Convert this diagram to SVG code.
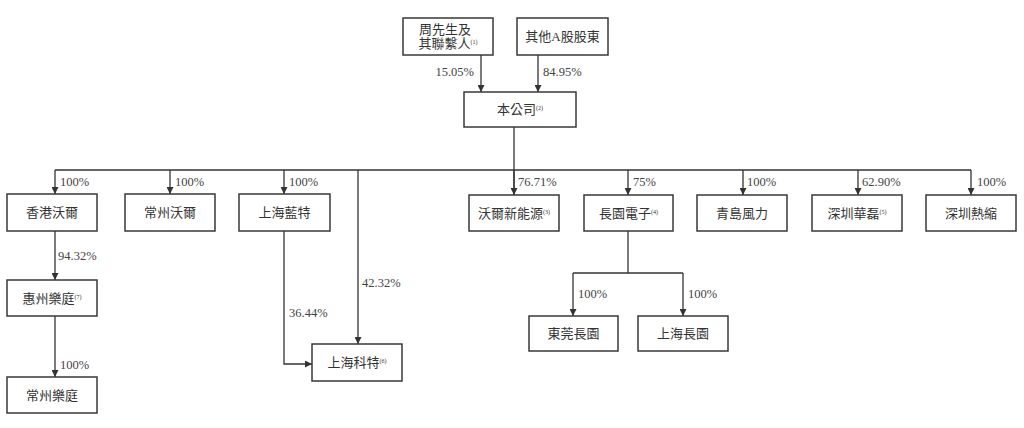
<svg xmlns="http://www.w3.org/2000/svg" width="1024" height="428" viewBox="0 0 1024 428">
<defs>
<marker id="arr" markerUnits="userSpaceOnUse" markerWidth="7" markerHeight="7" refX="7" refY="3.5" orient="auto">
<path d="M0,0 L7,3.5 L0,7 z" fill="#333"/>
</marker>
<style>
.box{fill:#fff;stroke:#383838;stroke-width:1.5}
.t{font-family:"Liberation Serif","Noto Sans CJK TC",serif;font-size:13px;fill:#333;text-anchor:middle}
.p{font-family:"Liberation Serif","Noto Sans CJK TC",serif;font-size:12.5px;fill:#444}
.s{font-size:6px}
.c{fill:none;stroke:#333;stroke-width:1.3}
</style>
</defs>
<rect width="1024" height="428" fill="#fff"/>
<g id="connectors">
<path class="c" d="M481,55 V92" marker-end="url(#arr)"/>
<path class="c" d="M538,55 V92" marker-end="url(#arr)"/>
<path class="c" d="M514,127 V195"/>
<path class="c" d="M55,170 H971"/>
<path class="c" d="M55,170 V194" marker-end="url(#arr)"/>
<path class="c" d="M170,170 V194" marker-end="url(#arr)"/>
<path class="c" d="M284,170 V194" marker-end="url(#arr)"/>
<path class="c" d="M358,170 V344" marker-end="url(#arr)"/>
<path class="c" d="M514,170 V195" marker-end="url(#arr)"/>
<path class="c" d="M628,170 V195" marker-end="url(#arr)"/>
<path class="c" d="M743,170 V195" marker-end="url(#arr)"/>
<path class="c" d="M858,170 V195" marker-end="url(#arr)"/>
<path class="c" d="M971,170 V195" marker-end="url(#arr)"/>
<path class="c" d="M55,231 V280" marker-end="url(#arr)"/>
<path class="c" d="M55,316 V377" marker-end="url(#arr)"/>
<path class="c" d="M284,231 V364 H312" marker-end="url(#arr)"/>
<path class="c" d="M628,231 V273"/>
<path class="c" d="M573,273 H683"/>
<path class="c" d="M573,273 V316" marker-end="url(#arr)"/>
<path class="c" d="M683,273 V316" marker-end="url(#arr)"/>
</g>
<g id="labels">
<text class="p" x="474" y="76" text-anchor="end">15.05%</text>
<text class="p" x="543" y="76">84.95%</text>
<text class="p" x="60" y="186">100%</text>
<text class="p" x="175" y="186">100%</text>
<text class="p" x="289" y="186">100%</text>
<text class="p" x="518" y="186">76.71%</text>
<text class="p" x="633" y="186">75%</text>
<text class="p" x="747" y="186">100%</text>
<text class="p" x="862" y="186">62.90%</text>
<text class="p" x="977" y="186">100%</text>
<text class="p" x="58" y="260">94.32%</text>
<text class="p" x="60" y="369">100%</text>
<text class="p" x="362" y="287">42.32%</text>
<text class="p" x="289" y="317">36.44%</text>
<text class="p" x="578" y="298">100%</text>
<text class="p" x="688" y="298">100%</text>
</g>
<g id="n-zhou"><rect class="box" x="403" y="18" width="90" height="37"/>
<text class="t" x="445" y="34">周先生及</text>
<text class="t" x="448" y="48">其聯繫人<tspan class="s" dy="-4">(1)</tspan></text></g>
<g id="n-other"><rect class="box" x="517" y="18" width="91" height="37"/>
<text class="t" x="562.5" y="41">其他A股股東</text></g>
<g id="n-company"><rect class="box" x="464" y="92" width="112" height="35"/>
<text class="t" x="520" y="114">本公司<tspan class="s" dy="-4">(2)</tspan></text></g>
<g id="n-hk"><rect class="box" x="7" y="194" width="90" height="37"/>
<text class="t" x="52" y="217">香港沃爾</text></g>
<g id="n-czwe"><rect class="box" x="125" y="194" width="90" height="37"/>
<text class="t" x="170" y="217">常州沃爾</text></g>
<g id="n-shlt"><rect class="box" x="239" y="194" width="91" height="37"/>
<text class="t" x="284.5" y="217">上海藍特</text></g>
<g id="n-xny"><rect class="box" x="469" y="195" width="90" height="36"/>
<text class="t" x="514" y="217.5">沃爾新能源<tspan class="s" dy="-4">(3)</tspan></text></g>
<g id="n-cy"><rect class="box" x="584" y="195" width="89" height="36"/>
<text class="t" x="628.5" y="217.5">長園電子<tspan class="s" dy="-4">(4)</tspan></text></g>
<g id="n-qd"><rect class="box" x="697" y="195" width="90" height="36"/>
<text class="t" x="742" y="217.5">青島風力</text></g>
<g id="n-szhl"><rect class="box" x="812" y="195" width="90" height="36"/>
<text class="t" x="857" y="217.5">深圳華磊<tspan class="s" dy="-4">(5)</tspan></text></g>
<g id="n-szrs"><rect class="box" x="926" y="195" width="90" height="36"/>
<text class="t" x="971" y="217.5">深圳熱縮</text></g>
<g id="n-hz"><rect class="box" x="7" y="280" width="90" height="36"/>
<text class="t" x="52" y="302.5">惠州樂庭<tspan class="s" dy="-4">(7)</tspan></text></g>
<g id="n-czlt"><rect class="box" x="7" y="377" width="90" height="36"/>
<text class="t" x="52" y="399.5">常州樂庭</text></g>
<g id="n-shkt"><rect class="box" x="312" y="344" width="90" height="37"/>
<text class="t" x="357" y="367">上海科特<tspan class="s" dy="-4">(6)</tspan></text></g>
<g id="n-dg"><rect class="box" x="529" y="316" width="89" height="35"/>
<text class="t" x="573.5" y="338">東莞長園</text></g>
<g id="n-shcy"><rect class="box" x="638" y="316" width="90" height="35"/>
<text class="t" x="683" y="338">上海長園</text></g>
</svg>
